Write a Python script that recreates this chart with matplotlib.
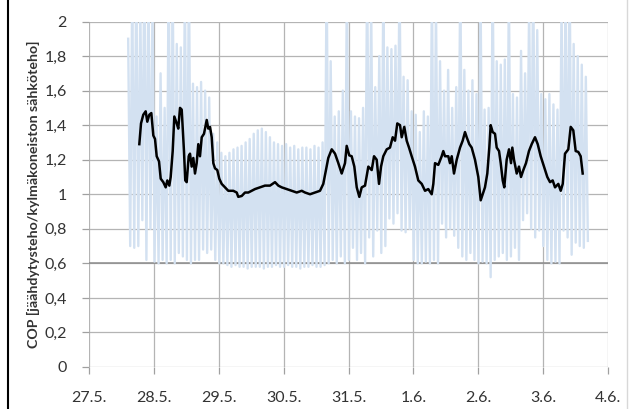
import numpy as np
import matplotlib
matplotlib.use("Agg")
import matplotlib.pyplot as plt
from matplotlib.lines import Line2D

plt.rcParams['font.family'] = ['Lato', 'DejaVu Sans']

# day labels on the x axis (27.5. = day 0)
day_labels = ['27.5.', '28.5.', '29.5.', '30.5.', '31.5.', '1.6.', '2.6.', '3.6.', '4.6.']
y_ticks = [0, 0.2, 0.4, 0.6, 0.8, 1, 1.2, 1.4, 1.6, 1.8, 2]

# raw COP, sampled every 45 min starting day 0.6, alternating peak / dip
raw_start = 0.6
raw_step = 0.0625  # one peak + one dip (days)
raw_high = [
    1.90, 2.20, 2.30, 2.10, 2.40, 2.20, 2.10, 1.45, 1.70, 1.50, 2.30, 2.20, 1.87, 1.85, 2.20, 2.30,
    1.64, 1.62, 1.65, 1.60, 1.56, 1.35, 1.30, 1.24, 1.22, 1.24, 1.26, 1.27, 1.28, 1.30, 1.32, 1.35,
    1.37, 1.38, 1.36, 1.33, 1.30, 1.29, 1.28, 1.29, 1.27, 1.28, 1.26, 1.27, 1.27, 1.26, 1.28, 1.27,
    1.30, 2.30, 1.77, 1.45, 1.48, 1.60, 2.20, 1.48, 1.45, 1.44, 1.50, 2.30, 2.10, 1.62, 1.80, 2.20,
    1.85, 1.84, 1.86, 2.30, 1.68, 1.66, 1.48, 1.46, 1.36, 1.48, 1.45, 2.20, 2.10, 1.77, 1.60, 1.72,
    1.50, 1.62, 2.30, 1.72, 1.60, 1.66, 1.58, 2.20, 1.49, 1.50, 2.30, 1.77, 1.75, 1.78, 2.20, 1.58,
    1.56, 1.83, 1.70, 2.10, 2.30, 1.95, 1.58, 1.55, 1.58, 1.52, 1.49, 2.10, 2.20, 2.30, 1.87, 1.80,
    1.75, 1.68,
]
raw_low = [
    0.70, 0.69, 0.70, 0.85, 0.62, 0.80, 0.61, 0.60, 0.62, 0.60, 0.62, 0.60, 0.66, 0.64, 0.62, 0.60,
    0.62, 0.62, 0.68, 0.66, 0.68, 0.62, 0.60, 0.60, 0.59, 0.58, 0.59, 0.58, 0.58, 0.57, 0.58, 0.58,
    0.58, 0.57, 0.58, 0.58, 0.59, 0.58, 0.58, 0.59, 0.58, 0.58, 0.57, 0.58, 0.58, 0.59, 0.58, 0.58,
    0.59, 0.60, 0.62, 0.60, 0.64, 0.60, 0.62, 0.69, 0.62, 0.66, 0.60, 0.75, 0.64, 0.79, 0.66, 0.70,
    0.86, 0.83, 0.89, 0.79, 0.78, 0.80, 0.62, 0.60, 0.60, 0.61, 0.60, 0.62, 0.60, 0.83, 0.75, 0.80,
    0.76, 0.69, 0.64, 0.62, 0.66, 0.62, 0.60, 0.61, 0.60, 0.52, 0.62, 0.64, 0.66, 0.62, 0.64, 0.69,
    0.62, 0.85, 0.89, 0.80, 0.75, 0.79, 0.70, 0.62, 0.60, 0.61, 0.60, 0.79, 0.75, 0.65, 0.72, 0.70,
    0.69, 0.73,
]

# smoothed COP
avg_day = [
    0.772, 0.798, 0.833, 0.870, 0.895, 0.926, 0.957, 0.988, 1.014, 1.040, 1.076, 1.102, 1.142, 1.179,
    1.204, 1.235, 1.256, 1.287, 1.312, 1.349, 1.373, 1.400, 1.426, 1.441, 1.461, 1.481, 1.503, 1.534,
    1.554, 1.580, 1.605, 1.631, 1.657, 1.682, 1.708, 1.735, 1.770, 1.812, 1.836, 1.863, 1.889, 1.914,
    1.940, 1.975, 2.006, 2.043, 2.094, 2.145, 2.222, 2.275, 2.299, 2.352, 2.403, 2.454, 2.506, 2.557,
    2.634, 2.711, 2.789, 2.866, 2.917, 2.969, 3.046, 3.123, 3.201, 3.278, 3.329, 3.406, 3.483, 3.560,
    3.611, 3.688, 3.741, 3.792, 3.843, 3.895, 3.946, 3.972, 4.012, 4.049, 4.090, 4.127, 4.167, 4.204,
    4.255, 4.306, 4.358, 4.394, 4.435, 4.471, 4.502, 4.537, 4.590, 4.640, 4.682, 4.718, 4.753, 4.795,
    4.821, 4.861, 4.898, 4.934, 4.975, 5.026, 5.077, 5.130, 5.181, 5.231, 5.284, 5.309, 5.335, 5.386,
    5.438, 5.463, 5.489, 5.540, 5.566, 5.593, 5.628, 5.670, 5.721, 5.762, 5.798, 5.824, 5.864, 5.901,
    5.952, 6.003, 6.040, 6.071, 6.106, 6.142, 6.173, 6.194, 6.225, 6.261, 6.287, 6.323, 6.349, 6.380,
    6.404, 6.441, 6.477, 6.508, 6.528, 6.554, 6.596, 6.631, 6.662, 6.698, 6.739, 6.785, 6.827, 6.878,
    6.920, 6.966, 7.017, 7.068, 7.110, 7.151, 7.187, 7.238, 7.275, 7.306, 7.341, 7.392, 7.429, 7.469,
    7.506, 7.546, 7.583, 7.614,
]
avg_cop = [
    1.29, 1.41, 1.46, 1.48, 1.42, 1.46, 1.47, 1.34, 1.32, 1.22, 1.19, 1.09, 1.07, 1.04,
    1.08, 1.05, 1.10, 1.25, 1.45, 1.41, 1.38, 1.50, 1.49, 1.39, 1.25, 1.08, 1.07, 1.22,
    1.235, 1.16, 1.21, 1.12, 1.18, 1.29, 1.22, 1.33, 1.35, 1.43, 1.38, 1.39, 1.33, 1.18,
    1.15, 1.14, 1.09, 1.06, 1.04, 1.02, 1.02, 1.01, 0.985, 0.99, 1.01, 1.01, 1.02, 1.03,
    1.04, 1.05, 1.05, 1.07, 1.05, 1.04, 1.03, 1.02, 1.01, 1.02, 1.01, 1.00, 1.01, 1.02,
    1.06, 1.21, 1.26, 1.235, 1.18, 1.12, 1.18, 1.28, 1.225, 1.22, 1.16, 1.04, 0.985, 1.04,
    1.05, 1.16, 1.14, 1.22, 1.20, 1.06, 1.16, 1.22, 1.26, 1.27, 1.33, 1.31, 1.41, 1.40,
    1.33, 1.39, 1.31, 1.27, 1.22, 1.16, 1.08, 1.06, 1.02, 1.03, 1.00, 1.06, 1.18, 1.17,
    1.22, 1.25, 1.22, 1.22, 1.18, 1.22, 1.12, 1.20, 1.27, 1.31, 1.36, 1.33, 1.29, 1.27,
    1.20, 1.10, 0.965, 1.00, 1.04, 1.12, 1.27, 1.40, 1.36, 1.35, 1.27, 1.25, 1.18, 1.08,
    1.04, 1.20, 1.26, 1.18, 1.27, 1.20, 1.12, 1.16, 1.10, 1.14, 1.18, 1.25, 1.29, 1.33,
    1.29, 1.22, 1.16, 1.10, 1.07, 1.08, 1.04, 1.06, 1.02, 1.06, 1.235, 1.26, 1.39, 1.37,
    1.25, 1.245, 1.22, 1.12,
]

# interleave peaks and dips into one time series
n = len(raw_high)
raw_t = np.empty(2 * n)
raw_t[0::2] = raw_start + np.arange(n) * raw_step
raw_t[1::2] = raw_start + (np.arange(n) + 0.5) * raw_step
raw_v = np.empty(2 * n)
raw_v[0::2] = raw_high
raw_v[1::2] = raw_low

fig = plt.figure(figsize=(6.31, 4.09), dpi=100)
ax = fig.add_axes([89.3 / 631, 42 / 409, 518.4 / 631, 345.5 / 409])

ax.plot(raw_t, raw_v, color='#d3e1f1', lw=1.7, zorder=2)
ax.plot(avg_day, avg_cop, color='black', lw=1.8, zorder=3)

ax.set_xlim(0, 8)
ax.set_ylim(0, 2)
ax.set_xticks(range(len(day_labels)))
ax.set_xticklabels(day_labels)
ax.set_yticks(y_ticks)
ax.set_yticklabels([('%g' % v).replace('.', ',') for v in y_ticks])

ax.grid(True, color='#b4b4b4', lw=0.9, zorder=1)
ax.axhline(0.6, color='#8c8c8c', lw=1.1, zorder=1)
ax.set_axisbelow(True)
for s in ax.spines.values():
    s.set_visible(False)
ax.tick_params(axis='both', colors='#a0a0a0', labelcolor='#333333', labelsize=11.5, length=5, width=0.9)
ax.tick_params(axis='y', pad=11)
ax.tick_params(axis='x', pad=12)

ax.set_ylabel('COP [jäähdytysteho/kylmäkoneiston sähköteho]', fontsize=10.2, fontweight='bold',
              color='#333333', labelpad=3)

# chart frame edges
fig.add_artist(Line2D([7.5 / 631, 7.5 / 631], [0, 1], color='black', lw=1.5))
fig.add_artist(Line2D([627 / 631, 627 / 631], [0, 1], color='#d8d8d8', lw=1.0))

fig.savefig('out.png', dpi=100)
